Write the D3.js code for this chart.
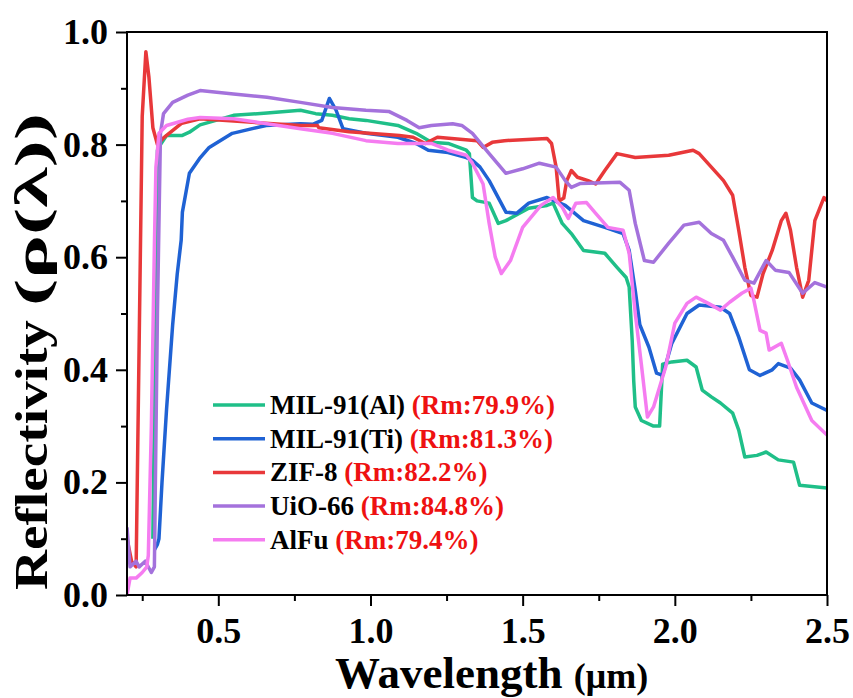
<!DOCTYPE html>
<html>
<head>
<meta charset="utf-8">
<script src="https://cdn.jsdelivr.net/npm/d3@7"></script>
<style>
  body { margin: 0; background: #fff; }
  text { font-family: "Liberation Serif", "Times New Roman", serif; font-weight: bold; }
</style>
</head>
<body>
<div id="chart"></div>
<script>
// wavelength (um) / reflectivity pairs
var milAl = [[0.285,0.10],[0.295,0.60],[0.30,0.79],[0.31,0.80],[0.33,0.816],[0.38,0.816],[0.405,0.822],[0.44,0.835],[0.55,0.852],[0.66,0.856],[0.77,0.861],[0.82,0.855],[0.875,0.852],[0.93,0.846],[0.985,0.843],[1.09,0.834],[1.15,0.82],[1.2,0.804],[1.255,0.802],[1.315,0.79],[1.325,0.784],[1.335,0.706],[1.35,0.70],[1.39,0.696],[1.42,0.66],[1.445,0.665],[1.52,0.687],[1.58,0.692],[1.60,0.696],[1.63,0.66],[1.66,0.642],[1.70,0.612],[1.77,0.607],[1.81,0.582],[1.84,0.564],[1.85,0.547],[1.86,0.452],[1.865,0.38],[1.87,0.334],[1.89,0.31],[1.93,0.30],[1.95,0.30],[1.96,0.41],[1.99,0.414],[2.04,0.417],[2.07,0.405],[2.09,0.364],[2.12,0.352],[2.15,0.341],[2.19,0.323],[2.21,0.293],[2.23,0.245],[2.27,0.248],[2.30,0.254],[2.34,0.24],[2.39,0.236],[2.41,0.195],[2.5,0.19]];

var milTi = [[0.29,0.08],[0.30,0.09],[0.305,0.10],[0.315,0.20],[0.33,0.33],[0.35,0.48],[0.365,0.57],[0.378,0.63],[0.382,0.68],[0.405,0.749],[0.438,0.775],[0.47,0.795],[0.546,0.82],[0.657,0.834],[0.77,0.837],[0.81,0.836],[0.84,0.843],[0.865,0.882],[0.887,0.861],[0.91,0.828],[0.985,0.82],[1.09,0.813],[1.15,0.802],[1.19,0.79],[1.255,0.786],[1.315,0.777],[1.335,0.772],[1.36,0.76],[1.39,0.736],[1.445,0.68],[1.48,0.678],[1.52,0.696],[1.58,0.706],[1.64,0.692],[1.70,0.665],[1.77,0.653],[1.83,0.642],[1.85,0.612],[1.87,0.541],[1.885,0.48],[1.915,0.44],[1.94,0.394],[1.96,0.39],[1.99,0.447],[2.04,0.50],[2.08,0.515],[2.15,0.511],[2.18,0.50],[2.21,0.458],[2.245,0.40],[2.28,0.39],[2.32,0.40],[2.34,0.411],[2.38,0.403],[2.41,0.382],[2.45,0.341],[2.5,0.328]];

var zif8 = [[0.20,0.10],[0.215,0.06],[0.23,0.05],[0.24,0.45],[0.25,0.85],[0.262,0.965],[0.272,0.92],[0.285,0.83],[0.30,0.80],[0.32,0.812],[0.38,0.838],[0.44,0.846],[0.6,0.84],[0.77,0.834],[0.826,0.834],[0.83,0.83],[0.93,0.823],[1.095,0.816],[1.14,0.813],[1.18,0.802],[1.22,0.813],[1.35,0.807],[1.37,0.795],[1.40,0.804],[1.44,0.807],[1.58,0.811],[1.595,0.802],[1.61,0.76],[1.62,0.70],[1.635,0.705],[1.645,0.736],[1.66,0.754],[1.68,0.742],[1.715,0.736],[1.74,0.73],[1.77,0.754],[1.81,0.784],[1.87,0.777],[1.98,0.781],[2.06,0.79],[2.08,0.784],[2.12,0.76],[2.16,0.736],[2.19,0.71],[2.21,0.648],[2.23,0.582],[2.25,0.532],[2.27,0.529],[2.29,0.571],[2.32,0.612],[2.35,0.665],[2.365,0.678],[2.38,0.648],[2.40,0.582],[2.42,0.529],[2.44,0.559],[2.46,0.665],[2.49,0.706],[2.5,0.70]];

var uio66 = [[0.20,0.12],[0.21,0.05],[0.23,0.06],[0.24,0.05],[0.26,0.06],[0.28,0.04],[0.29,0.05],[0.30,0.50],[0.31,0.82],[0.32,0.855],[0.35,0.875],[0.40,0.888],[0.44,0.896],[0.55,0.89],[0.66,0.884],[0.77,0.875],[0.875,0.866],[0.985,0.861],[1.06,0.859],[1.12,0.843],[1.16,0.83],[1.2,0.834],[1.27,0.837],[1.30,0.834],[1.335,0.82],[1.39,0.784],[1.445,0.749],[1.50,0.757],[1.555,0.767],[1.61,0.76],[1.64,0.736],[1.66,0.724],[1.69,0.731],[1.82,0.733],[1.85,0.719],[1.87,0.66],[1.90,0.594],[1.93,0.591],[1.98,0.625],[2.03,0.657],[2.08,0.662],[2.12,0.642],[2.16,0.63],[2.19,0.60],[2.23,0.559],[2.26,0.554],[2.30,0.594],[2.33,0.577],[2.375,0.573],[2.42,0.536],[2.46,0.555],[2.5,0.547]];

var alfu = [[0.20,0.0],[0.21,0.03],[0.23,0.03],[0.25,0.04],[0.265,0.05],[0.27,0.07],[0.28,0.30],[0.29,0.62],[0.295,0.76],[0.305,0.82],[0.33,0.834],[0.4,0.845],[0.44,0.848],[0.55,0.846],[0.66,0.837],[0.77,0.828],[0.875,0.82],[0.985,0.807],[1.09,0.802],[1.2,0.802],[1.255,0.79],[1.315,0.781],[1.335,0.767],[1.37,0.73],[1.39,0.66],[1.41,0.60],[1.43,0.571],[1.46,0.594],[1.50,0.653],[1.56,0.692],[1.60,0.706],[1.63,0.689],[1.65,0.669],[1.675,0.696],[1.71,0.697],[1.74,0.678],[1.78,0.653],[1.83,0.648],[1.85,0.607],[1.87,0.50],[1.89,0.41],[1.91,0.316],[1.93,0.334],[1.97,0.405],[2.0,0.483],[2.04,0.518],[2.07,0.529],[2.11,0.518],[2.15,0.506],[2.18,0.52],[2.22,0.536],[2.25,0.545],[2.26,0.523],[2.28,0.47],[2.30,0.465],[2.31,0.435],[2.35,0.447],[2.37,0.417],[2.40,0.369],[2.45,0.31],[2.5,0.284]];

var seriesNames = ["MIL-91(Al)", "MIL-91(Ti)", "ZIF-8", "UiO-66", "AlFu"];
var seriesRm = ["(Rm:79.9%)", "(Rm:81.3%)", "(Rm:82.2%)", "(Rm:84.8%)", "(Rm:79.4%)"];
var seriesData = [milAl, milTi, zif8, uio66, alfu];
var seriesColors = ["#1fbf88", "#1f62d4", "#e8383a", "#a472dc", "#f57cf0"];

var xMajor = [0.5, 1.0, 1.5, 2.0, 2.5];
var xMinor = [0.25, 0.75, 1.25, 1.75, 2.25];
var yMajor = [0.0, 0.2, 0.4, 0.6, 0.8, 1.0];
var yMinor = [0.1, 0.3, 0.5, 0.7, 0.9];

var W = 853, H = 698;
var margin = { top: 32, right: 26, bottom: 103, left: 127 };
var width = W - margin.left - margin.right,
    height = H - margin.top - margin.bottom;

var svg = d3.select("#chart").append("svg")
    .attr("width", W)
    .attr("height", H);

var g = svg.append("g")
    .attr("transform", "translate(" + margin.left + "," + margin.top + ")");

var x = d3.scaleLinear().domain([0.2, 2.5]).range([0, width]);
var y = d3.scaleLinear().domain([0, 1]).range([height, 0]);

// minor ticks
g.append("g")
    .attr("transform", "translate(0," + height + ")")
    .call(d3.axisBottom(x).tickValues(xMinor).tickSize(6).tickFormat(""))
    .call(a => a.select(".domain").remove());
g.append("g")
    .call(d3.axisLeft(y).tickValues(yMinor).tickSize(6).tickFormat(""))
    .call(a => a.select(".domain").remove());

// major ticks
var xAxis = g.append("g")
    .attr("transform", "translate(0," + height + ")")
    .call(d3.axisBottom(x).tickValues(xMajor).tickSize(11).tickPadding(11).tickFormat(d3.format(".1f")));
var yAxis = g.append("g")
    .call(d3.axisLeft(y).tickValues(yMajor).tickSize(11).tickPadding(8).tickFormat(d3.format(".1f")));

[xAxis, yAxis].forEach(function (a) {
    a.select(".domain").remove();
    a.selectAll("text").style("font-size", "36px").attr("fill", "#000");
});
g.selectAll(".tick line").attr("stroke", "#000").attr("stroke-width", 2);

// lines
var line = d3.line()
    .x(function (d) { return x(d[0]); })
    .y(function (d) { return y(d[1]); });

g.append("defs").append("clipPath").attr("id", "clip")
    .append("rect").attr("width", width).attr("height", height);

seriesData.forEach(function (s, i) {
    g.append("path")
        .datum(s)
        .attr("clip-path", "url(#clip)")
        .attr("fill", "none")
        .attr("stroke", seriesColors[i])
        .attr("stroke-width", 3.5)
        .attr("stroke-linejoin", "round")
        .attr("d", line);
});

// frame
g.append("rect")
    .attr("width", width)
    .attr("height", height)
    .attr("fill", "none")
    .attr("stroke", "#000")
    .attr("stroke-width", 2);

// legend
var legend = g.append("g").attr("transform", "translate(86,373)");
seriesNames.forEach(function (name, i) {
    var row = legend.append("g").attr("transform", "translate(0," + (i * 33.7) + ")");
    row.append("line")
        .attr("x1", 0).attr("x2", 52)
        .attr("stroke", seriesColors[i])
        .attr("stroke-width", 3.5);
    var t = row.append("text")
        .attr("x", 57)
        .attr("y", 9)
        .style("font-size", "27px");
    t.append("tspan").attr("fill", "#000").text(name + " ");
    t.append("tspan").attr("fill", "#ee1111").text(seriesRm[i]);
});

// axis titles
var xt = svg.append("text")
    .attr("x", 335)
    .attr("y", 688)
    .attr("fill", "#000");
xt.append("tspan").style("font-size", "45px").text("Wavelength ");
xt.append("tspan").style("font-size", "36px").text("(μm)");

var yt = svg.append("g").attr("transform", "translate(47,0) rotate(-90)");
yt.append("text")
    .attr("x", -590)
    .attr("fill", "#000")
    .attr("textLength", 270)
    .attr("lengthAdjust", "spacingAndGlyphs")
    .style("font-size", "46px")
    .text("Reflectivity");
yt.append("text")
    .attr("x", -306)
    .attr("fill", "#000")
    .attr("textLength", 193)
    .attr("lengthAdjust", "spacingAndGlyphs")
    .style("font-size", "46px")
    .text("(ρ(λ))");
</script>
</body>
</html>
